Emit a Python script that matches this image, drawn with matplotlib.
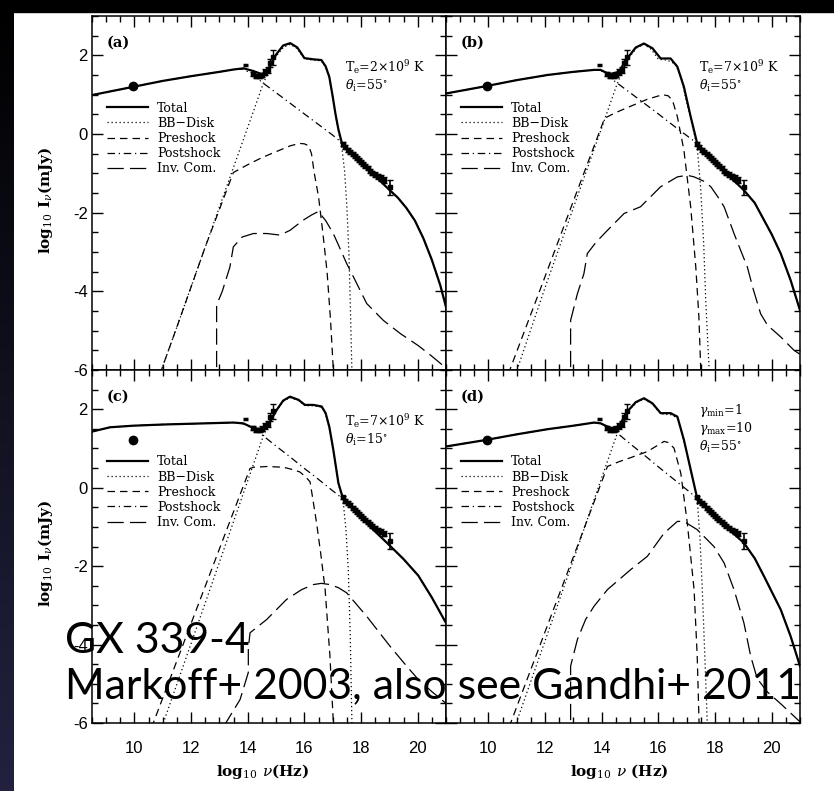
import numpy as np
import matplotlib
matplotlib.use("Agg")
import matplotlib.pyplot as plt
from matplotlib.patches import Rectangle

plt.rcParams['axes.unicode_minus'] = False
plt.rcParams['mathtext.fontset'] = 'dejavuserif'

# ---------------- data ----------------
# observed points, same in every panel
radio_x = [9.96]
radio_y = [1.22]
ir_bar_x = [13.92]
ir_bar_y = [1.75]
ir_x = [14.18, 14.3, 14.42, 14.52, 14.62, 14.7, 14.8, 14.88]
ir_y = [1.53, 1.48, 1.47, 1.50, 1.57, 1.62, 1.80, 1.95]
ir_err = [0.05, 0.05, 0.05, 0.06, 0.07, 0.08, 0.1, 0.19]
xr_x = [17.35, 17.45, 17.55, 17.62, 17.7, 17.78, 17.85, 17.92, 18.0, 18.08,
        18.15, 18.23, 18.32, 18.4, 18.5, 18.6, 18.7, 18.8, 19.02]
xr_y = [-0.25, -0.33, -0.40, -0.45, -0.52, -0.56, -0.62, -0.66, -0.72, -0.77,
        -0.82, -0.87, -0.93, -0.98, -1.03, -1.08, -1.12, -1.17, -1.36]
xr_err = [0.05, 0.05, 0.05, 0.05, 0.05, 0.05, 0.05, 0.05, 0.05, 0.05,
          0.05, 0.05, 0.05, 0.05, 0.06, 0.06, 0.07, 0.07, 0.2]

# panel (a)
a_tot_x = [8.5, 9.96, 11.0, 12.0, 13.0, 13.5, 13.85, 14.2, 14.5, 14.7, 15.0, 15.25, 15.5,
           15.75, 16.0, 16.3, 16.6, 16.75, 16.88, 17.0, 17.1, 17.2, 17.32, 17.6, 18.0,
           18.5, 19.0, 19.3, 19.6, 19.9, 20.2, 20.5, 20.8, 21.0]
a_tot_y = [0.99, 1.2, 1.35, 1.47, 1.58, 1.64, 1.67, 1.6, 1.52, 1.62, 2.02, 2.25, 2.31,
           2.2, 1.93, 1.9, 1.88, 1.72, 1.45, 0.95, 0.5, 0.12, -0.22, -0.43, -0.72,
           -1.07, -1.42, -1.62, -1.88, -2.2, -2.65, -3.2, -3.85, -4.4]
a_bb_x = [10.9, 11.5, 12.5, 13.5, 14.0, 14.55, 14.8, 15.0, 15.25, 15.5, 15.75, 16.0, 16.3,
          16.6, 16.75, 16.88, 17.0, 17.1, 17.2, 17.32, 17.42, 17.5, 17.57, 17.62, 17.68]
a_bb_y = [-6.1, -4.9, -2.87, -0.84, 0.17, 1.29, 1.7, 1.97, 2.2, 2.28, 2.17, 1.91, 1.88,
          1.86, 1.7, 1.43, 0.93, 0.48, 0.08, -0.33, -0.95, -1.85, -3.0, -4.3, -6.1]
a_pre_x = [10.9, 11.5, 12.5, 13.49, 14.0, 14.5, 15.0, 15.5, 15.84, 16.0, 16.15, 16.25,
           16.35, 16.5, 16.65, 16.8, 16.92, 17.03]
a_pre_y = [-6.1, -4.9, -2.87, -0.98, -0.78, -0.6, -0.45, -0.3, -0.24, -0.25, -0.3, -0.5,
           -1.0, -1.6, -2.5, -3.5, -4.7, -6.1]
a_post_x = [8.5, 9.96, 11.0, 12.0, 13.0, 13.5, 13.85, 14.2, 14.55, 15.0, 15.5, 16.0, 16.5,
            17.0, 17.32, 17.6, 18.0, 18.5, 19.0, 19.3, 19.6, 19.9, 20.2, 20.5, 20.8, 21.0]
a_post_y = [0.99, 1.2, 1.35, 1.47, 1.58, 1.64, 1.65, 1.5, 1.29, 1.05, 0.78, 0.51, 0.24,
            -0.03, -0.22, -0.43, -0.72, -1.07, -1.42, -1.62, -1.88, -2.2, -2.65, -3.2,
            -3.85, -4.4]
a_ic_x = [12.9, 12.9, 13.1, 13.37, 13.49, 13.8, 14.2, 14.67, 15.14, 15.49, 15.96, 16.25,
          16.49, 16.75, 17.02, 17.25, 17.49, 17.73, 18.2, 18.79, 19.38, 20.02, 20.5, 21.0]
a_ic_y = [-6.5, -4.35, -4.0, -3.38, -2.87, -2.62, -2.53, -2.53, -2.57, -2.45, -2.19,
          -2.06, -1.97, -2.2, -2.53, -2.9, -3.29, -3.63, -4.31, -4.74, -5.07, -5.38,
          -5.65, -5.95]

# panel (b)
b_tot_x = [8.5, 9.94, 11.0, 12.08, 13.0, 13.73, 13.96, 14.26, 14.6, 14.9, 15.2, 15.49,
           15.79, 16.08, 16.43, 16.67, 16.9, 17.14, 17.37, 17.7, 18.0, 18.5, 19.02, 19.4,
           19.73, 20.0, 20.32, 20.67, 21.0]
b_tot_y = [1.03, 1.22, 1.37, 1.5, 1.58, 1.63, 1.63, 1.52, 1.58, 1.92, 2.2, 2.3, 2.18,
           1.92, 1.92, 1.71, 1.2, 0.44, -0.24, -0.5, -0.72, -1.07, -1.43, -1.75, -2.19,
           -2.55, -3.04, -3.72, -4.48]
b_bb_x = [10.96, 12.0, 13.0, 14.0, 14.55, 14.8, 15.0, 15.25, 15.5, 15.75, 16.0, 16.3,
          16.6, 16.8, 17.0, 17.2, 17.37, 17.49, 17.6, 17.67, 17.73, 17.8]
b_bb_y = [-6.1, -3.9, -1.87, 0.16, 1.29, 1.7, 1.98, 2.2, 2.28, 2.15, 1.9, 1.88, 1.78,
          1.45, 0.8, 0.2, -0.33, -1.34, -2.8, -4.2, -5.1, -6.1]
b_pre_x = [10.7, 12.0, 13.0, 14.1, 14.45, 15.0, 15.6, 16.15, 16.35, 16.5, 16.67, 16.9,
           17.14, 17.32, 17.43, 17.5]
b_pre_y = [-6.1, -3.62, -1.7, 0.4, 0.53, 0.7, 0.88, 1.0, 0.97, 0.85, 0.44, -0.41, -1.85,
           -3.38, -4.65, -6.1]
b_post_x = [8.5, 9.94, 11.0, 12.08, 13.0, 13.73, 13.96, 14.26, 14.55, 15.0, 15.5, 16.0,
            16.5, 17.0, 17.37, 17.7, 18.0, 18.5, 19.02, 19.4, 19.73, 20.0, 20.32, 20.67, 21.0]
b_post_y = [1.03, 1.22, 1.37, 1.5, 1.58, 1.63, 1.62, 1.45, 1.29, 1.05, 0.78, 0.51, 0.23,
            -0.04, -0.24, -0.5, -0.72, -1.07, -1.43, -1.75, -2.19, -2.55, -3.04, -3.72, -4.48]
b_ic_x = [12.9, 12.9, 13.14, 13.37, 13.49, 13.8, 14.2, 14.79, 15.37, 16.08, 16.67, 17.02,
          17.26, 17.6, 17.85, 18.1, 18.32, 18.67, 18.9, 19.14, 19.35, 19.61, 19.85, 20.32,
          20.79, 21.0]
b_ic_y = [-6.5, -4.74, -4.06, -3.55, -3.04, -2.75, -2.45, -2.02, -1.85, -1.34, -1.09,
          -1.05, -1.09, -1.2, -1.34, -1.6, -1.85, -2.53, -2.95, -3.38, -3.95, -4.57,
          -4.86, -5.16, -5.5, -5.6]

# panel (c)
c_tot_x = [8.5, 9.14, 9.96, 11.0, 12.0, 13.0, 13.49, 13.84, 14.2, 14.55, 14.79, 15.02,
           15.25, 15.49, 15.79, 16.02, 16.32, 16.61, 16.75, 16.88, 17.02, 17.2, 17.37,
           17.7, 18.0, 18.5, 19.02, 19.5, 20.02, 20.5, 21.0]
c_tot_y = [1.43, 1.54, 1.58, 1.61, 1.63, 1.65, 1.66, 1.64, 1.52, 1.47, 1.69, 1.98, 2.22,
           2.32, 2.24, 2.11, 2.11, 2.07, 1.9, 1.55, 0.97, 0.12, -0.29, -0.53, -0.75,
           -1.12, -1.48, -1.82, -2.24, -2.8, -3.45]
c_bb_x = [10.97, 12.0, 13.0, 14.0, 14.55, 14.8, 15.02, 15.25, 15.49, 15.79, 16.02, 16.32,
          16.61, 16.75, 16.88, 17.02, 17.2, 17.37, 17.47, 17.55, 17.62, 17.68]
c_bb_y = [-6.1, -3.97, -1.9, 0.18, 1.32, 1.69, 1.97, 2.2, 2.3, 2.22, 2.09, 2.09, 2.05,
          1.88, 1.53, 0.95, 0.1, -0.35, -1.1, -2.09, -3.8, -6.1]
c_pre_x = [10.6, 11.5, 12.5, 13.5, 14.08, 14.2, 14.7, 15.26, 15.6, 15.84, 16.05, 16.2,
           16.3, 16.43, 16.58, 16.73, 16.9, 17.03]
c_pre_y = [-6.12, -4.41, -2.51, -0.61, 0.49, 0.52, 0.54, 0.52, 0.46, 0.40, 0.27, 0.15,
           -0.3, -0.9, -1.7, -2.58, -4.28, -6.1]
c_post_x = [8.5, 9.14, 9.96, 11.0, 12.0, 13.0, 13.49, 13.84, 14.2, 14.55, 15.0, 15.5,
            16.0, 16.5, 17.0, 17.37, 17.7, 18.0, 18.5, 19.02, 19.5, 20.02, 20.5, 21.0]
c_post_y = [1.43, 1.54, 1.58, 1.61, 1.63, 1.65, 1.66, 1.63, 1.5, 1.32, 1.06, 0.78, 0.49,
            0.21, -0.08, -0.29, -0.53, -0.75, -1.12, -1.48, -1.82, -2.24, -2.8, -3.45]
c_ic_x = [13.14, 13.73, 14.02, 14.02, 14.08, 14.67, 15.37, 15.9, 16.32, 16.6, 16.9, 17.2,
          17.49, 18.2, 19.02, 19.61, 20.02, 20.5, 21.0]
c_ic_y = [-6.1, -5.4, -4.71, -4.1, -3.7, -3.36, -2.85, -2.6, -2.47, -2.44, -2.47, -2.55,
          -2.68, -3.28, -4.04, -4.55, -4.89, -5.2, -5.5]

# panel (d)
d_tot_x = [8.5, 9.94, 11.0, 12.08, 13.0, 13.73, 13.96, 14.31, 14.6, 14.9, 15.2, 15.49,
           15.79, 16.08, 16.43, 16.67, 16.9, 17.14, 17.37, 17.7, 18.0, 18.5, 19.02, 19.4,
           19.73, 20.0, 20.32, 20.67, 21.0]
d_tot_y = [1.05, 1.22, 1.36, 1.49, 1.58, 1.66, 1.64, 1.52, 1.56, 1.94, 2.18, 2.28, 2.15,
           1.9, 1.9, 1.81, 1.22, 0.46, -0.27, -0.5, -0.72, -1.07, -1.41, -1.8, -2.26,
           -2.65, -3.11, -3.79, -4.55]
d_bb_x = [10.93, 12.0, 13.0, 14.0, 14.55, 14.8, 15.0, 15.25, 15.49, 15.79, 16.08, 16.43,
          16.67, 16.9, 17.14, 17.37, 17.47, 17.55, 17.65, 17.73]
d_bb_y = [-6.1, -3.9, -1.84, 0.26, 1.39, 1.75, 2.0, 2.18, 2.26, 2.13, 1.88, 1.86, 1.78,
          1.2, 0.44, -0.31, -1.3, -2.6, -4.5, -6.1]
d_pre_x = [10.73, 12.0, 13.0, 14.2, 14.6, 15.0, 15.61, 16.2, 16.35, 16.55, 16.79, 17.02,
           17.26, 17.37, 17.44]
d_pre_y = [-6.1, -3.67, -1.76, 0.54, 0.66, 0.76, 0.92, 1.18, 1.15, 1.01, 0.37, -0.9,
           -2.6, -4.28, -6.1]
d_post_x = [8.5, 9.94, 11.0, 12.08, 13.0, 13.73, 13.96, 14.31, 14.55, 15.0, 15.5, 16.0,
            16.5, 17.0, 17.37, 17.7, 18.0, 18.5, 19.02, 19.4, 19.73, 20.0, 20.32, 20.67, 21.0]
d_post_y = [1.05, 1.22, 1.36, 1.49, 1.58, 1.66, 1.63, 1.5, 1.39, 1.12, 0.83, 0.53, 0.24,
            -0.05, -0.27, -0.5, -0.72, -1.07, -1.41, -1.8, -2.26, -2.65, -3.11, -3.79, -4.55]
d_ic_x = [12.9, 12.9, 13.14, 13.43, 13.73, 14.2, 15.02, 15.61, 16.2, 16.67, 16.9, 17.37,
          17.96, 18.32, 18.67, 19.02, 19.26, 19.49, 19.85, 20.32, 21.0]
d_ic_y = [-6.5, -4.55, -3.87, -3.36, -3.02, -2.6, -2.09, -1.75, -1.16, -0.86, -0.86,
          -1.07, -1.5, -1.92, -2.6, -3.45, -4.3, -4.87, -5.21, -5.51, -5.97]

panel_tags = ['(a)', '(b)', '(c)', '(d)']
panel_notes = [[r'T$_{\rm e}$=2$\times$10$^{9}$ K', r'$\theta_{\rm i}$=55$^{\circ}$'],
               [r'T$_{\rm e}$=7$\times$10$^{9}$ K', r'$\theta_{\rm i}$=55$^{\circ}$'],
               [r'T$_{\rm e}$=7$\times$10$^{9}$ K', r'$\theta_{\rm i}$=15$^{\circ}$'],
               [r'$\gamma_{\rm min}$=1', r'$\gamma_{\rm max}$=10', r'$\theta_{\rm i}$=55$^{\circ}$']]
legend_names = ['Total', 'BB\u2212Disk', 'Preshock', 'Postshock', 'Inv. Com.']

panels = [
    (a_tot_x, a_tot_y, a_bb_x, a_bb_y, a_pre_x, a_pre_y, a_post_x, a_post_y, a_ic_x, a_ic_y),
    (b_tot_x, b_tot_y, b_bb_x, b_bb_y, b_pre_x, b_pre_y, b_post_x, b_post_y, b_ic_x, b_ic_y),
    (c_tot_x, c_tot_y, c_bb_x, c_bb_y, c_pre_x, c_pre_y, c_post_x, c_post_y, c_ic_x, c_ic_y),
    (d_tot_x, d_tot_y, d_bb_x, d_bb_y, d_pre_x, d_pre_y, d_post_x, d_post_y, d_ic_x, d_ic_y),
]

W, H = 834, 791
fig = plt.figure(figsize=(W / 100, H / 100), dpi=100)
fig.patch.set_facecolor('white')

# slide background: black top strip, dark gradient strip on the left
bg = fig.add_axes([0, 0, 1, 1], zorder=-10)
bg.set_xlim(0, W)
bg.set_ylim(H, 0)
bg.axis('off')
grad = np.linspace(0, 1, 200)[:, None, None] * np.array([34, 34, 64])[None, None, :] / 255
bg.imshow(grad, extent=(0, 14, H, 0), aspect='auto')
bg.add_patch(Rectangle((0, 0), W, 12, color='black'))

# panel boxes in pixels: left, top, width, height
boxes = [(92, 16, 354, 354), (446, 16, 354, 354), (92, 370, 354, 353), (446, 370, 354, 353)]

serif = 'DejaVu Serif'
for i, (box, cur) in enumerate(zip(boxes, panels)):
    l, t, w, h = box
    ax = fig.add_axes([l / W, (H - t - h) / H, w / W, h / H])
    tx, ty, bx, by, px, py, sx, sy, cx, cy = cur
    ax.plot(tx, ty, color='black', lw=1.6, ls='-', label=legend_names[0], zorder=5)
    ax.plot(bx, by, color='black', lw=0.9, ls=(0, (1, 2.2)), label=legend_names[1])
    ax.plot(px, py, color='black', lw=0.9, ls=(0, (6, 4)), label=legend_names[2])
    ax.plot(sx, sy, color='black', lw=0.9, ls=(0, (6, 3, 1, 3)), label=legend_names[3])
    ax.plot(cx, cy, color='black', lw=0.9, ls=(0, (13, 5)), label=legend_names[4])

    ax.plot(radio_x, radio_y, 'o', color='black', ms=6, zorder=6)
    ax.errorbar(ir_bar_x, ir_bar_y, xerr=0.1, fmt='none', ecolor='black', elinewidth=2.5, zorder=6)
    ax.errorbar(ir_x, ir_y, yerr=ir_err, fmt='s', color='black', ms=2.5, capsize=2.5,
                elinewidth=1, zorder=6)
    ax.errorbar(xr_x, xr_y, yerr=xr_err, fmt='s', color='black', ms=3, capsize=2.5,
                elinewidth=1.2, zorder=6)

    ax.set_xlim(8.5, 21)
    ax.set_ylim(-6, 3)
    ax.set_xticks([10, 12, 14, 16, 18, 20])
    ax.set_yticks([-6, -4, -2, 0, 2])
    ax.set_xticks(np.arange(8.5, 21.01, 0.5), minor=True)
    ax.set_yticks(np.arange(-6, 3.01, 0.5), minor=True)
    ax.tick_params(which='both', direction='in', top=True, right=True, width=1)
    ax.tick_params(which='major', length=8)
    ax.tick_params(which='minor', length=4.5)
    ax.tick_params(axis='x', labelsize=12, pad=13)
    ax.tick_params(axis='y', labelsize=12, pad=3)
    for lab in ax.get_xticklabels() + ax.get_yticklabels():
        lab.set_fontfamily('Liberation Sans')
    for sp in ax.spines.values():
        sp.set_linewidth(1.1)

    if i in (1, 3):
        ax.tick_params(axis='y', labelleft=False)
    if i in (0, 1):
        ax.tick_params(axis='x', labelbottom=False)
    if i in (0, 2):
        ax.set_ylabel(r'log$_{10}$ I$_{\nu}$(mJy)', fontfamily=serif, fontweight='bold', fontsize=11)
        ax.yaxis.set_label_coords(-0.105, 0.48)
    if i == 2:
        ax.set_xlabel(r'log$_{10}$ $\nu$(Hz)', fontfamily=serif, fontweight='bold', fontsize=11)
        ax.xaxis.set_label_coords(0.483, -0.11)
    if i == 3:
        ax.set_xlabel(r'log$_{10}$ $\nu$ (Hz)', fontfamily=serif, fontweight='bold', fontsize=11)
        ax.xaxis.set_label_coords(0.489, -0.11)

    ax.text(0.042, 0.924, panel_tags[i], transform=ax.transAxes, fontfamily=serif,
            fontweight='bold', fontsize=10.5, va='center', ha='left')
    notes = panel_notes[i]
    y0 = 0.855 if len(notes) == 2 else 0.885
    for k, s in enumerate(notes):
        ax.text(0.715, y0 - k * 0.052, s, transform=ax.transAxes, fontfamily=serif,
                fontsize=9, va='center', ha='left')

    ax.legend(loc='upper left', bbox_to_anchor=(0.042, 0.758), frameon=False,
              prop={'family': serif, 'size': 9}, handlelength=3.3, handletextpad=0.7,
              labelspacing=0.17, borderpad=0, borderaxespad=0)

# slide caption over the figure
t1 = fig.text(65 / W, (H - 653) / H, 'GX 339-4', fontfamily='Lato', fontsize=24,
              color='black', va='baseline', ha='left', zorder=20)
t2 = fig.text(65 / W, (H - 698) / H, 'Markoff+ 2003, also see Gandhi+ 2011',
              fontfamily='Lato', fontsize=24, color='black', va='baseline', ha='left', zorder=20)
fig.canvas.draw()
wpx = t2.get_window_extent().width
fs = 24 * 736 / wpx
t1.set_fontsize(fs)
t2.set_fontsize(fs)

fig.savefig('out.png', dpi=100)
